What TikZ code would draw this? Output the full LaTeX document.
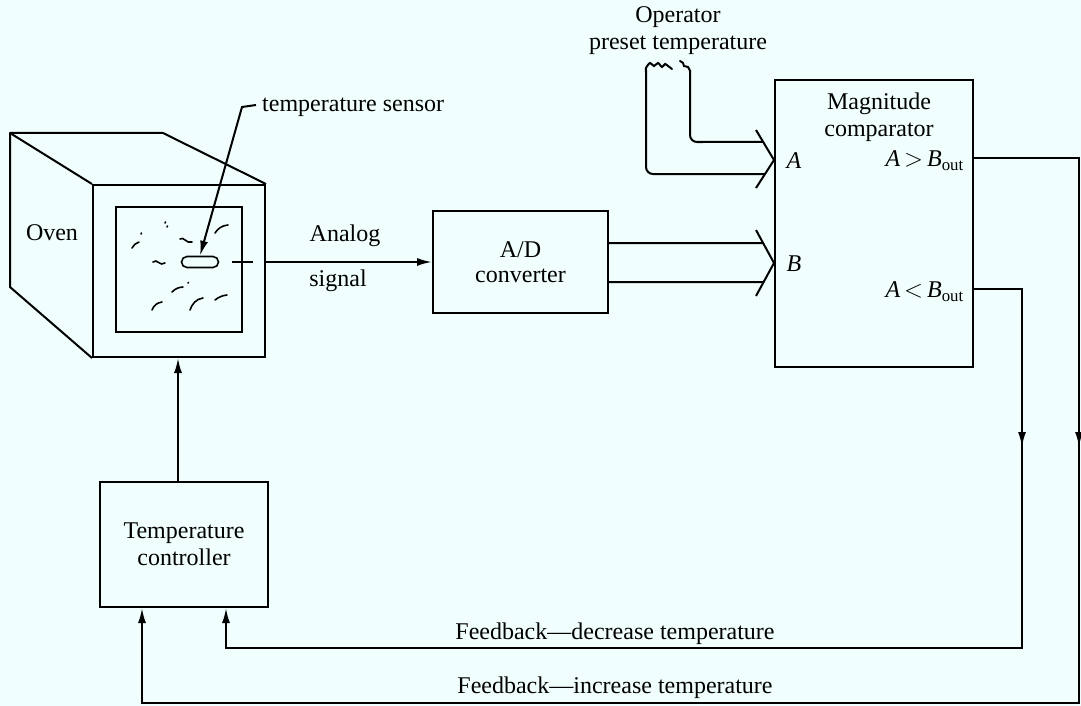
\documentclass[tikz,border=0pt]{standalone}
\usepackage{fontspec}
\setmainfont{Liberation Serif}
\usetikzlibrary{arrows.meta,calc,shapes.misc}
\definecolor{paper}{RGB}{240,254,254}
\begin{document}
\begin{tikzpicture}[x=1pt,y=-1pt,
  every node/.style={font=\fontsize{24}{27}\selectfont},
  line/.style={line width=2pt},
  box/.style={draw, line width=2pt, inner sep=0pt},
  tip/.style={-{Latex[length=15pt,width=8pt]}},
  scrib/.style={line width=1.6pt, line cap=round},
  lbl/.style={inner sep=0pt, align=center}]
\fill[paper] (0,0) rectangle (1081,706);
\useasboundingbox (0,0) rectangle (1081,706);

% ---- oven ----
\node[box, minimum width=172pt, minimum height=172pt] (front) at (179,271) {};
\draw[line, line join=round] (front.north west) -- (10,133) -- (163,133) -- (front.north east);
\draw[line, line join=round] (10,133) -- (10,287) -- (front.south west);
\node[box, minimum width=126pt, minimum height=125pt] (window) at (179,269.5) {};
\node[lbl] (ovenlbl) at (52,233) {Oven};
\node[draw, rounded rectangle, line width=1.6pt, minimum width=37pt,
      minimum height=11pt, inner sep=0pt] (pill) at (200,262) {};

% marks on the window glass
\draw[scrib] (132,248) to[bend left=20] (139,242);
\draw[scrib] (141,234) -- (141.5,233);
\draw[scrib] (165,223) -- (165.5,222);
\draw[scrib] (167,227) -- (167.5,226);
\draw[scrib] (180,239) .. controls (184,236) and (186,244) .. (192,242);
\draw[scrib] (215,233) to[bend left=25] (228,225);
\draw[scrib] (153,262) .. controls (157,258) and (160,267) .. (165,263);
\draw[scrib] (172,292) to[bend left=20] (183,287);
\draw[scrib] (188,283) -- (188.5,282.5);
\draw[scrib] (152,310) to[bend left=30] (162,302);
\draw[scrib] (190,310) .. controls (192,304) and (196,299) .. (203,298);
\draw[scrib] (215,300) to[bend left=15] (227,295);

% sensor label and pointer
\node[lbl, anchor=west] (senslbl) at (262,107) {temperature sensor};
\coordinate (hook) at (242,107);
\draw[line, tip] ($(senslbl.west)+(-6,-2)$) -- (hook) -- (pill.north);

% sensor lead through the oven wall
\draw[line] ($(pill.east)+(13,0)$) -- ($(pill.east)+(34,0)$);

% ---- A/D converter ----
\node[box, lbl, font=\fontsize{24}{25}\selectfont, minimum width=175pt,
      minimum height=102pt] (adc) at (520.5,262) {A/D\\converter};
\draw[line, tip] (front.east |- pill.center) -- (adc.west |- pill.center);
\node[lbl] (analog) at (345,236) {Analog};
\node[lbl] (signal) at (338,281) {signal};

% ---- magnitude comparator ----
\node[box, minimum width=198pt, minimum height=287pt] (comp) at (874,223.5) {};
\node[lbl] (magn) at (879,117) {Magnitude\\comparator};
\node[lbl] (ina) at (794,161) {\itshape A};
\node[lbl] (inb) at (794,264) {\itshape B};
\node[lbl, anchor=east] (gtlbl) at (964,161)
  {{\itshape A}\,$>$\,{\itshape B}\textsubscript{out}};
\node[lbl, anchor=east] (ltlbl) at (964,292)
  {{\itshape A}\,$<$\,{\itshape B}\textsubscript{out}};

% bus inputs (chevrons)
\coordinate (atip) at (comp.west |- 0,160);
\coordinate (btip) at (comp.west |- 0,263);
\coordinate (aup) at ($(atip)+(-18,-30)$);
\coordinate (alo) at ($(atip)+(-18,28)$);
\coordinate (bup) at ($(btip)+(-18,-33)$);
\coordinate (blo) at ($(btip)+(-18,33)$);
\draw[line] (aup) -- (atip) -- (alo);
\draw[line] (bup) -- (btip) -- (blo);

% operator preset wires
\node[lbl] (oper) at (678,31) {Operator\\preset temperature};
\coordinate (wr) at (690,70);
\coordinate (wl) at (646,70);
\draw[line, line cap=round] plot[smooth] coordinates
  {(646,72) (646,68) (650,63) (654,66) (658,63) (662,67) (665,64) (668,66) (672,69)};
\draw[line, line cap=round] plot[smooth] coordinates
  {(680,61) (683,63) (684,66) (688,67) (690,71)};
\draw[line, rounded corners=7pt] (wr) -- (wr |- 0,142) -- ($(aup)!0.4!(atip)$);
\draw[line, rounded corners=7pt] (wl) -- (wl |- 0,174) -- ($(atip)!0.5!(alo)$);

% A/D outputs to B input
\draw[line] (adc.east |- 0,243) -- ($(bup)!0.394!(btip)$);
\draw[line] (adc.east |- 0,282) -- ($(btip)!0.576!(blo)$);

% ---- temperature controller ----
\node[box, lbl, minimum width=168pt, minimum height=125pt] (ctrl) at (184,544.5)
  {Temperature\\controller};
\coordinate (ctrlup) at ($(ctrl.north)+(-6,0)$);
\draw[line, tip] (ctrlup) -- (ctrlup |- front.south);

% ---- feedback paths (arrowhead part-way down each drop) ----
\coordinate (gtout) at (comp.east |- 0,158);
\coordinate (gtdown) at (1079,447);
\coordinate (incin) at (142,703);
\draw[line, tip] (gtout) -| (gtdown);
\draw[line, tip] ($(gtdown)+(0,-6)$) |- (incin) -- (incin |- ctrl.south);

\coordinate (ltout) at (comp.east |- 0,289);
\coordinate (ltdown) at (1022,447);
\coordinate (decin) at (226,648);
\draw[line, tip] (ltout) -| (ltdown);
\draw[line, tip] ($(ltdown)+(0,-6)$) |- (decin) -- (decin |- ctrl.south);

\node[lbl] (fbdec) at (615,634) {Feedback\textemdash decrease temperature};
\node[lbl] (fbinc) at (615,688) {Feedback\textemdash increase temperature};
\end{tikzpicture}
\end{document}
